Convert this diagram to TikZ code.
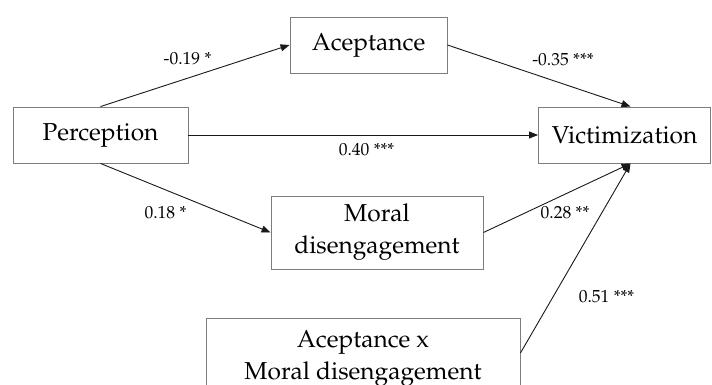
\documentclass[tikz,border=0pt]{standalone}
\usepackage[T1]{fontenc}
\usepackage{mathpazo}
\usetikzlibrary{arrows.meta}
\definecolor{boxgray}{RGB}{125,125,125}
\definecolor{linec}{RGB}{25,25,25}
\tikzset{
  box/.style={draw=boxgray, line width=0.9pt, rectangle, inner sep=0pt, align=center,
    font=\fontsize{24.5}{32}\selectfont, text=black},
  arr/.style={draw=linec, line width=0.9pt, -{Triangle[length=9pt,width=7pt]}},
  lab/.style={font=\fontsize{17.5}{20}\selectfont, text=black, inner sep=0pt},
}
\begin{document}
\begin{tikzpicture}[x=1pt,y=-1pt]
\useasboundingbox (0,0) rectangle (712,385);
\clip (0,0) rectangle (712,385);
\node[box, minimum width=175pt, minimum height=56pt] (perc) at (100.5,135) {Perception};
\node[box, minimum width=157pt, minimum height=56pt] (acc) at (368.5,45) {Aceptance};
\node[box, minimum width=172pt, minimum height=56pt] (vic) at (624.5,135) {Victimization};
\node[box, minimum width=212pt, minimum height=73pt] (moral) at (377,232.5) {Moral\\disengagement};
\node[box, minimum width=314pt, minimum height=80pt] (inter) at (363,358) {Aceptance x\\Moral disengagement};

\draw[arr] (perc.north) -- (acc.west);
\draw[arr] (acc.east) -- ([xshift=6pt]vic.north);
\draw[arr] (perc.east) -- (vic.west);
\draw[arr] (perc.south) -- (moral.west);
\draw[arr] (moral.east) -- ([xshift=6pt]vic.south);
\draw[arr] ([yshift=5pt]inter.east) -- ([xshift=6pt]vic.south);

\node[lab] (l1) at (187.5,58.5) {-0.19 *};
\node[lab] (l2) at (563,60) {-0.35 ***};
\node[lab] (l3) at (366.5,149.5) {0.40 ***};
\node[lab] (l4) at (165.5,213) {0.18 *};
\node[lab] (l5) at (565,213) {0.28 **};
\node[lab] (l6) at (606.5,296.5) {0.51 ***};
\end{tikzpicture}
\end{document}
